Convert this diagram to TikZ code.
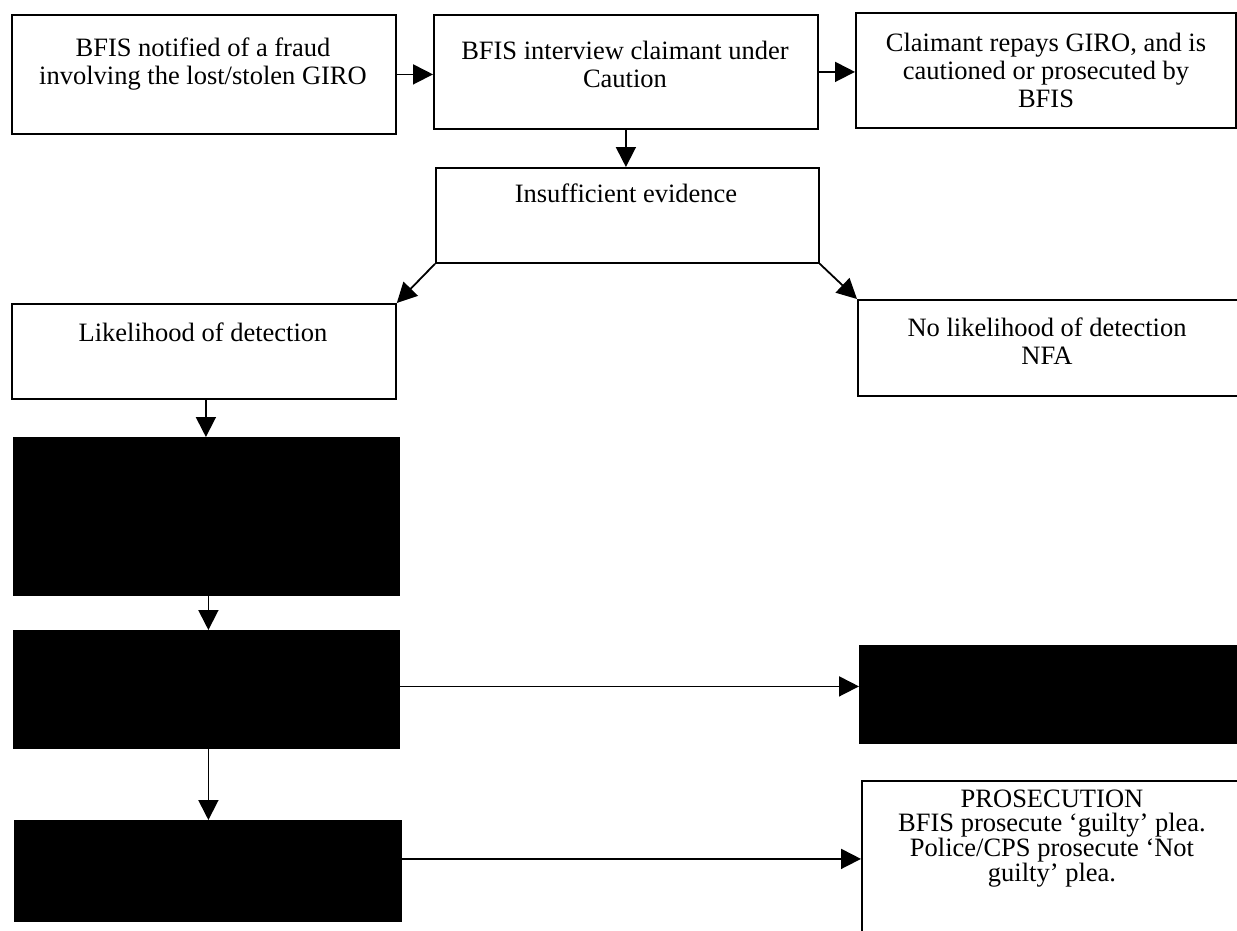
\documentclass[tikz,border=0pt]{standalone}
\usepackage{fontspec}
\setmainfont{Liberation Serif}
\usetikzlibrary{arrows.meta}
\begin{document}
\begin{tikzpicture}[x=1pt,y=-1pt,
  box/.style={draw, line width=1.8pt, rectangle, anchor=north west, inner sep=0pt},
  blk/.style={box, fill=black},
  txt/.style={align=center, inner sep=0pt, font=\fontsize{26.5}{28}\selectfont},
  arr/.style={line width=1.8pt, -{Triangle[length=20pt,width=20pt]}}]
\useasboundingbox (0,0) rectangle (1237,930);
% boxes
\node[box, minimum width=384pt, minimum height=119pt] (A) at (11,14) {};
\node[box, minimum width=384pt, minimum height=114pt] (B) at (433,14) {};
\node[box, minimum width=380pt, minimum height=115pt] (C) at (855,12) {};
\node[box, minimum width=383pt, minimum height=95pt] (D) at (435,167) {};
\node[box, minimum width=384pt, minimum height=95pt] (E) at (11,303) {};
\node[box, minimum width=383pt, minimum height=96pt] (F) at (857,299) {};
\node[blk, minimum width=385pt, minimum height=157pt] (G) at (13,437) {};
\node[blk, minimum width=385pt, minimum height=117pt] (H) at (13,630) {};
\node[blk, minimum width=386pt, minimum height=100pt] (I) at (14,820) {};
\node[blk, minimum width=381pt, minimum height=97pt] (J) at (859,645) {};
\node[box, minimum width=380pt, minimum height=160pt] (K) at (861,780) {};
% texts
\node[txt] (tA) at (203,64) {BFIS notified of a fraud\\involving the lost/stolen GIRO};
\node[txt] (tB) at (625,64) {BFIS interview claimant under\\Caution};
\node[txt] (tC) at (1046,70) {Claimant repays GIRO, and is\\cautioned or prosecuted by\\BFIS};
\node[txt] (tD) at (626,193) {Insufficient evidence};
\node[txt] (tE) at (203,332) {Likelihood of detection};
\node[txt] (tF) at (1047,341) {No likelihood of detection\\NFA};
\node[txt, font=\fontsize{26.5}{24}\selectfont] (tK) at (1052,839) {PROSECUTION\\BFIS prosecute ‘guilty’ plea.\\Police/CPS prosecute ‘Not\\guilty’ plea.};
% connectors
\draw[arr] (A.east) -- (A.east -| B.west);
\draw[arr] (B.east) -- (B.east -| C.west);
\draw[arr] (B.south) -- (B.south |- D.north);
\draw[arr] (D.south west) -- (E.north east);
\draw[arr] (D.south east) -- (F.north west);
\draw[arr] ([xshift=2pt]E.south) -- ([xshift=2pt]E.south |- G.north);
\draw[arr] ([xshift=2pt]G.south) -- ([xshift=2pt]G.south |- H.north);
\draw[arr] ([xshift=2pt]H.south) -- ([xshift=2pt]H.south |- I.north);
\draw[arr] ([yshift=3pt]H.east) -- ([yshift=3pt]H.east -| J.west);
\draw[arr] ([yshift=12pt]I.east) -- ([yshift=12pt]I.east -| K.west);
\end{tikzpicture}
\end{document}
